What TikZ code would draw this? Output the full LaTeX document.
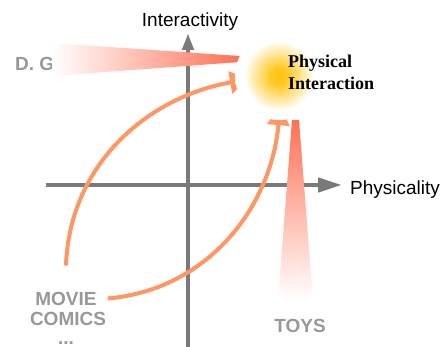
\documentclass[tikz,border=0pt]{standalone}
\usepackage{fontspec}
\setmainfont{Liberation Serif}
\setsansfont{Liberation Sans}
\usetikzlibrary{arrows.meta,positioning}

\definecolor{axisgray}{RGB}{122,122,122}
\definecolor{taggray}{RGB}{152,152,152}
\definecolor{salmon}{RGB}{255,150,100}
\definecolor{coral}{RGB}{255,112,84}

% yellow core that fades out into an opaque white disc
\pgfdeclareradialshading{glow}{\pgfpointorigin}{%
  rgb(0bp)=(1,0.76,0.06); rgb(5bp)=(1,0.79,0.14);
  rgb(20bp)=(1,1,1); rgb(50bp)=(1,1,1)}

\begin{document}
\begin{tikzpicture}[%
    x=1pt, y=1pt,                          % work in points, y grows upwards
    >={Triangle[length=17pt,width=11pt]},  % tip of the vertical axis
    ]
% -------------------------------------------------
% Styles
\tikzset{
  axis/.style={axisgray, line width=4.5pt},
  axlabel/.style={inner sep=0pt, font=\sffamily\fontsize{19}{22}\selectfont},
  tag/.style={inner sep=0pt, text=taggray,
              font=\sffamily\bfseries\fontsize{19}{22}\selectfont},
  blurb/.style={inner sep=0pt, font=\bfseries\fontsize{18}{21}\selectfont},
  link/.style={salmon, line width=4pt, -{Triangle[length=19pt,width=22pt]}},
}
\useasboundingbox (0,0) rectangle (446,346);
% -------------------------------------------------
% Axes and their names
\draw[axis, ->] (188,-2) -- (188,313);
\draw[axis, -{Triangle[length=24pt,width=14pt]}] (46,161) -- (342,161);
\node[axlabel, anchor=base] (yname) at (190,319) {Interactivity};
\node[axlabel, anchor=base west] (xname) at (350,152) {Physicality};

% Media tags
\node[tag, anchor=base west] (dg) at (15,276) {D. G};
\node[tag, anchor=base] (movie) at (66,41) {MOVIE};
\node[tag, anchor=base] (comics) at (68,21) {COMICS};
\node[tag, anchor=base] (more) at (66,2) {...};
\node[tag, anchor=base] (toys) at (300,14) {TOYS};

% Target spot; the arrows aim at its inner ring
\coordinate (spot) at (279,270);
\node[circle, minimum size=60pt] (pi) at (spot) {};

% Fading beams
\shade[left color=white, right color=coral]
  (52,303) -- (240,290) -- (240,284) -- (52,270) -- cycle;
\shade[top color=coral, bottom color=white]
  (292,226) -- (299,226) -- (313,46) -- (278,46) -- cycle;

% Curved links
\draw[link] ([yshift=26pt]movie.north) to[out=88, in=190] (pi.186);
\draw[link] ([xshift=11pt]movie.east) to[out=5, in=265] (pi.-88);

% Glow on top, then its caption
\shade[shading=glow] (spot) circle (44pt);
\node[blurb, anchor=base west] (phys) at (288,278) {Physical};
\node[blurb, anchor=base west] (inter) at (288,257) {Interaction};
% -------------------------------------------------
\end{tikzpicture}
\end{document}
